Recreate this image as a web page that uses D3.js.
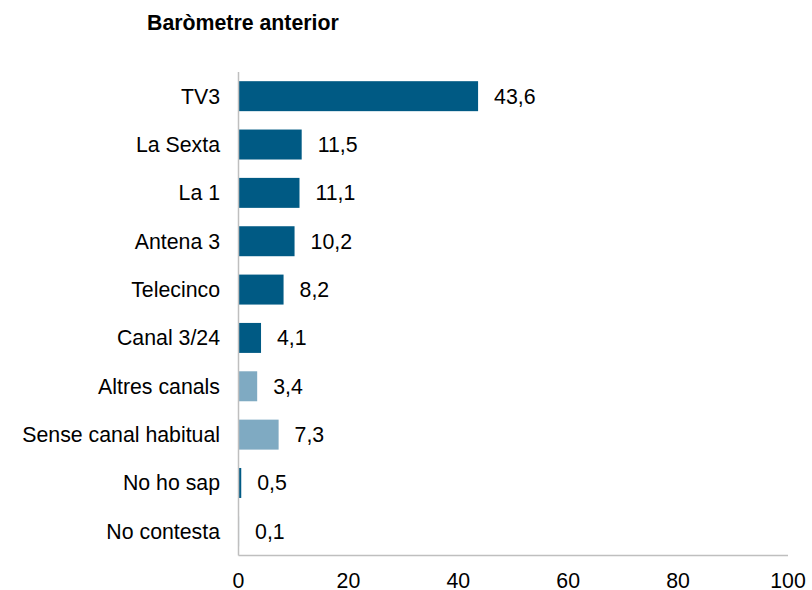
<!DOCTYPE html>
<html><head><meta charset="utf-8">
<script src="https://cdn.jsdelivr.net/npm/d3@7"></script>
<style>body{margin:0;background:#fff}svg{display:block}text{font-family:"Liberation Sans",Arial,sans-serif;fill:#000}</style>
</head><body>
<script>
const categories = ["TV3","La Sexta","La 1","Antena 3","Telecinco","Canal 3/24","Altres canals","Sense canal habitual","No ho sap","No contesta"];
const values = [43.6,11.5,11.1,10.2,8.2,4.1,3.4,7.3,0.5,0.1];
const groups = ["main","main","main","main","main","main","other","other","main","main"];
const tickValues = [0,20,40,60,80,100];
const title = "Baròmetre anterior";

const W=812,H=590;
const svg=d3.select("body").append("svg").attr("width",W).attr("height",H);
const x=d3.scaleLinear().domain([0,100]).range([238.5,788]);
const y=d3.scaleBand().domain(categories).range([72,555.5]).paddingInner(0.38).paddingOuter(0.19);
const color={main:"#005A84",other:"#7FAAC2"};
const fs=21.3;

svg.append("text").attr("x",147).attr("y",30).attr("font-size",fs).attr("font-weight","bold").text(title);

const data=categories.map((c,i)=>({c,v:values[i],g:groups[i]}));
svg.selectAll("rect.bar").data(data).join("rect").attr("class","bar")
 .attr("x",x(0)).attr("y",d=>y(d.c)).attr("width",d=>x(d.v)-x(0)).attr("height",y.bandwidth())
 .attr("fill",d=>color[d.g]);

svg.append("line").attr("x1",x(0)).attr("x2",x(0)).attr("y1",72).attr("y2",555.5).attr("stroke","#BFBFBF").attr("stroke-width",1.5);
svg.append("line").attr("x1",x(0)).attr("x2",x(100)).attr("y1",555.5).attr("y2",555.5).attr("stroke","#BFBFBF").attr("stroke-width",1.5);

svg.selectAll("text.cat").data(data).join("text").attr("class","cat")
 .attr("x",220).attr("y",d=>y(d.c)+y.bandwidth()/2).attr("dy","0.35em").attr("text-anchor","end").attr("font-size",fs).text(d=>d.c);

svg.selectAll("text.val").data(data).join("text").attr("class","val")
 .attr("x",d=>x(d.v)+16).attr("y",d=>y(d.c)+y.bandwidth()/2).attr("dy","0.35em").attr("font-size",fs)
 .text(d=>d3.format(".1f")(d.v).replace(".",","));

svg.selectAll("text.tick").data(tickValues).join("text").attr("class","tick")
 .attr("x",d=>x(d)).attr("y",581).attr("dy","0.35em").attr("text-anchor","middle").attr("font-size",fs).text(d=>d);
</script>
</body></html>
